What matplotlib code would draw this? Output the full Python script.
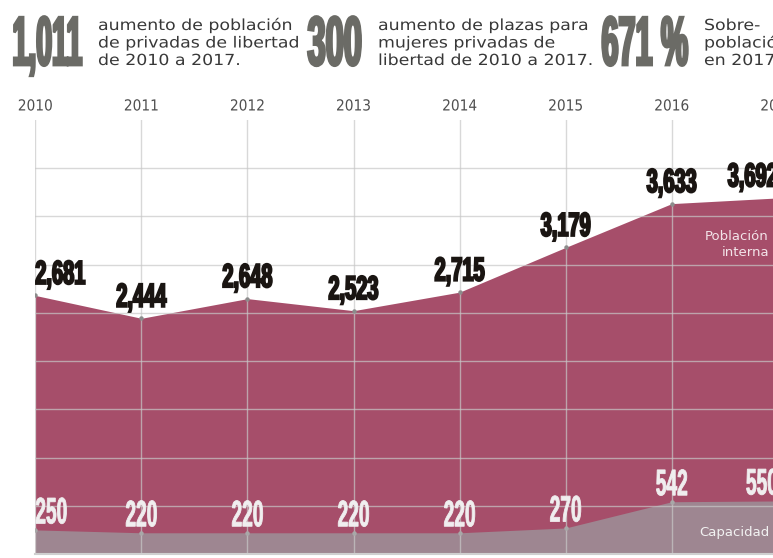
import matplotlib
matplotlib.use("Agg")
import matplotlib.pyplot as plt
from matplotlib.patheffects import AbstractPathEffect
from matplotlib.transforms import Affine2D

# ---------------- data ----------------
years = [2010, 2011, 2012, 2013, 2014, 2015, 2016, 2017]
poblacion = [2681, 2444, 2648, 2523, 2715, 3179, 3633, 3692]
capacidad = [250, 220, 220, 220, 220, 270, 542, 550]
year_labels = ["2010", "2011", "2012", "2013", "2014", "2015", "2016", "2017"]

stat_numbers = ["1,011", "300", "671 %"]
stat_texts = [
    ["aumento de población", "de privadas de libertad", "de 2010 a 2017."],
    ["aumento de plazas para", "mujeres privadas de", "libertad de 2010 a 2017."],
    ["Sobre-", "población", "en 2017"],
]
serie_pob = ["Población", "interna"]
serie_cap = "Capacidad"

# ---------------- style ----------------
W, H = 773, 558
C_POB = "#A64E6A"
C_CAP = "#9E8691"
C_GRID = "#C8C8C8"
C_BIGNUM = "#6B6B66"
C_TEXT = "#383838"
C_YEAR = "#505050"
C_LABEL = "#1A1512"
C_CAPLAB = "#F0EEEF"


class Stretch(AbstractPathEffect):
    """Draw text glyphs stretched vertically about the baseline (tall, condensed
    display-type look), optionally thickened by a stroke in the text colour."""

    def __init__(self, sy=1.0, stroke=0.0):
        super().__init__()
        self.sy = sy
        self.stroke = stroke

    def draw_path(self, renderer, gc, tpath, affine, rgbFace=None):
        t = Affine2D().scale(1.0, self.sy) + affine
        gc0 = renderer.new_gc()
        gc0.copy_properties(gc)
        if self.stroke > 0 and rgbFace is not None:
            gc0.set_linewidth(self.stroke)
            gc0.set_foreground(rgbFace)
            gc0.set_joinstyle("miter")
        else:
            gc0.set_linewidth(0)
        renderer.draw_path(gc0, tpath, t, rgbFace)
        gc0.restore()


def fx(px):
    return px / W


def fy(py):
    return 1 - py / H


fig = plt.figure(figsize=(W / 100, H / 100), dpi=100)
fig.patch.set_facecolor("white")

# axes: 2010 at x=35.3px, 2017 at x=777.8px; y=0 at 554px, y=4500 at 120px
ax = fig.add_axes([fx(35.3), 1 - 554 / H, (777.8 - 35.3) / W, (554 - 120) / H])
ax.set_xlim(2010, 2017)
ax.set_ylim(0, 4500)
ax.set_facecolor("white")
for s in ax.spines.values():
    s.set_visible(False)
ax.set_xticks([])
ax.set_yticks([])

ax.fill_between(years, 0, poblacion, color=C_POB, linewidth=0, zorder=1)
ax.fill_between(years, 0, capacidad, color=C_CAP, linewidth=0, zorder=1.5)

# grid on top of fills
for yv in range(500, 4001, 500):
    ax.axhline(yv, color=C_GRID, alpha=0.7, lw=1.0, zorder=2)
for xv in years:
    ax.axvline(xv, color=C_GRID, alpha=0.7, lw=1.0, zorder=2)
ax.axhline(0, color="#CFCFCF", lw=1.5, zorder=2, clip_on=False)

ax.plot(years, poblacion, "o", color="#8C8C8C", ms=3.2, mew=0, zorder=3)
ax.plot(years, capacidad, "o", color="#A8A8A8", ms=3.2, mew=0, zorder=3)

# year labels
for xv, lab in zip(years, year_labels):
    ax.annotate(lab, (xv, 4500), xytext=(0, 9.5 * 0.72), textcoords="offset points",
                ha="center", va="baseline", fontsize=9.9, color=C_YEAR,
                family="DejaVu Sans", annotation_clip=False,
                path_effects=[Stretch(1.11)])

n = len(years)
for i, (xv, p, c) in enumerate(zip(years, poblacion, capacidad)):
    if i == 0:
        ha = "left"
    elif i == n - 1:
        ha = "right"
    else:
        ha = "center"
    ax.annotate(f"{p:,}", (xv, p), xytext=(0, 11.5 * 0.72), textcoords="offset points",
                ha=ha, va="baseline", fontsize=14.4, fontweight="bold",
                family="Liberation Sans", color=C_LABEL, annotation_clip=False, zorder=5,
                path_effects=[Stretch(1.667, stroke=1.4)])
    ax.annotate(f"{c:,}", (xv, c), xytext=(0, 6.5 * 0.72), textcoords="offset points",
                ha=ha, va="baseline", fontsize=13.8, fontweight="bold",
                family="Liberation Sans", color=C_CAPLAB, annotation_clip=False, zorder=5,
                path_effects=[Stretch(1.923, stroke=0.6)])

# series labels
fig.text(fx(769), fy(240), serie_pob[0], ha="right", va="baseline", fontsize=9.5,
         color="#F3E4E9", family="DejaVu Sans", zorder=6)
fig.text(fx(769), fy(256.5), serie_pob[1], ha="right", va="baseline", fontsize=9.5,
         color="#F3E4E9", family="DejaVu Sans", zorder=6)
fig.text(fx(769), fy(536), serie_cap, ha="right", va="baseline", fontsize=9.5,
         color="#F2F2F2", family="DejaVu Sans", zorder=6)

# header statistics
num_x = [12.5, 307.5, 601.5]
num_size = [20.5, 23.5, 22.0]
txt_x = [98, 378, 704]
baselines = [30, 47.5, 65]
for k in range(3):
    fig.text(fx(num_x[k]), fy(65), stat_numbers[k], ha="left", va="baseline",
             fontsize=num_size[k], fontweight="bold", family="Liberation Sans",
             color=C_BIGNUM,
             path_effects=[Stretch(50 / num_size[k], stroke=2.0)])
    for line, b in zip(stat_texts[k], baselines):
        fig.text(fx(txt_x[k]), fy(b), line, ha="left", va="baseline", fontsize=12.5,
                 family="DejaVu Sans", color=C_TEXT,
                 path_effects=[Stretch(0.88)])

fig.savefig("out.png", dpi=100, facecolor="white")
